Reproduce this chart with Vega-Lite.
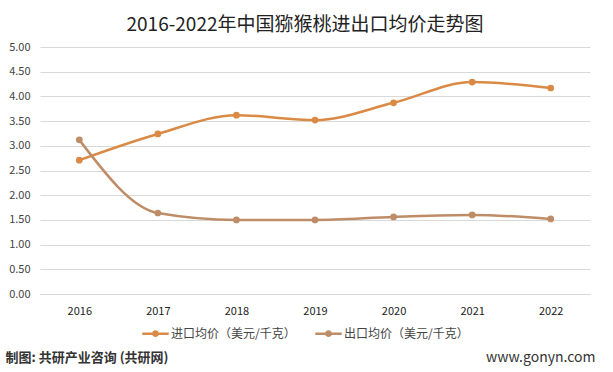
{
  "$schema": "https://vega.github.io/schema/vega-lite/v6.json",
  "width": 550,
  "height": 247,
  "autosize": {"type": "none"},
  "padding": {"left": 40, "top": 47, "right": 23, "bottom": 78},
  "background": "white",
  "title": {
    "text": "2016-2022年中国猕猴桃进出口均价走势图",
    "fontSize": 19,
    "font": "Noto Sans CJK SC",
    "fontWeight": "normal",
    "color": "#222222",
    "offset": 6,
    "dx": -10
  },
  "data": {
    "values": [
      {"year": "2016", "series": "进口均价（美元/千克）", "value": 2.71},
      {"year": "2017", "series": "进口均价（美元/千克）", "value": 3.24},
      {"year": "2018", "series": "进口均价（美元/千克）", "value": 3.62},
      {"year": "2019", "series": "进口均价（美元/千克）", "value": 3.52},
      {"year": "2020", "series": "进口均价（美元/千克）", "value": 3.87},
      {"year": "2021", "series": "进口均价（美元/千克）", "value": 4.29},
      {"year": "2022", "series": "进口均价（美元/千克）", "value": 4.17},
      {"year": "2016", "series": "出口均价（美元/千克）", "value": 3.12},
      {"year": "2017", "series": "出口均价（美元/千克）", "value": 1.64},
      {"year": "2018", "series": "出口均价（美元/千克）", "value": 1.50},
      {"year": "2019", "series": "出口均价（美元/千克）", "value": 1.50},
      {"year": "2020", "series": "出口均价（美元/千克）", "value": 1.56},
      {"year": "2021", "series": "出口均价（美元/千克）", "value": 1.60},
      {"year": "2022", "series": "出口均价（美元/千克）", "value": 1.52}
    ]
  },
  "encoding": {
    "x": {
      "field": "year",
      "type": "ordinal",
      "scale": {"type": "point", "padding": 0.5},
      "axis": {
        "title": "制图: 共研产业咨询 (共研网)",
        "titleAnchor": "start",
        "titleAlign": "left",
        "titleX": -35,
        "titleY": 63,
        "titleBaseline": "middle",
        "titleFont": "Noto Sans CJK SC",
        "titleFontSize": 13,
        "titleFontWeight": "bold",
        "titleColor": "#333333",
        "labelAngle": 0,
        "labelFont": "Noto Sans CJK SC",
        "labelFontSize": 11,
        "labelColor": "#222222",
        "labelPadding": 11,
        "ticks": false,
        "domain": true,
        "domainColor": "#D9D9D9",
        "grid": false
      }
    },
    "y": {
      "field": "value",
      "type": "quantitative",
      "scale": {"domain": [0, 5], "nice": false, "zero": true},
      "axis": {
        "title": "www.gonyn.com",
        "titleAngle": 0,
        "titleX": 555,
        "titleY": 310,
        "titleAlign": "right",
        "titleBaseline": "middle",
        "titleFont": "Noto Sans CJK SC",
        "titleFontSize": 14,
        "titleFontWeight": "normal",
        "titleColor": "#333333",
        "values": [0, 0.5, 1, 1.5, 2, 2.5, 3, 3.5, 4, 4.5, 5],
        "format": ".2f",
        "labelFont": "Noto Sans CJK SC",
        "labelFontSize": 11,
        "labelColor": "#444444",
        "labelPadding": 10,
        "ticks": false,
        "domain": false,
        "grid": true,
        "gridColor": "#D9D9D9",
        "gridWidth": 1
      }
    },
    "color": {
      "field": "series",
      "type": "nominal",
      "sort": ["进口均价（美元/千克）", "出口均价（美元/千克）"],
      "scale": {
        "domain": ["进口均价（美元/千克）", "出口均价（美元/千克）"],
        "range": ["#DA8A45", "#BF8C68"]
      },
      "legend": {
        "title": null,
        "orient": "none",
        "legendX": 101,
        "legendY": 272,
        "direction": "horizontal",
        "labelFont": "Noto Sans CJK SC",
        "labelFontSize": 12,
        "labelColor": "#444444",
        "labelOffset": 1,
        "columnPadding": 14,
        "symbolType": "M-1,0H1M0.17,0A0.17,0.17 0 1,1 -0.17,0A0.17,0.17 0 1,1 0.17,0Z",
        "symbolSize": 700,
        "symbolStrokeWidth": 2.5
      }
    }
  },
  "layer": [
    {
      "mark": {"type": "line", "interpolate": "monotone", "strokeWidth": 2.5}
    },
    {
      "mark": {"type": "point", "filled": true, "size": 45, "opacity": 1}
    }
  ],
  "config": {
    "view": {"stroke": null}
  }
}
